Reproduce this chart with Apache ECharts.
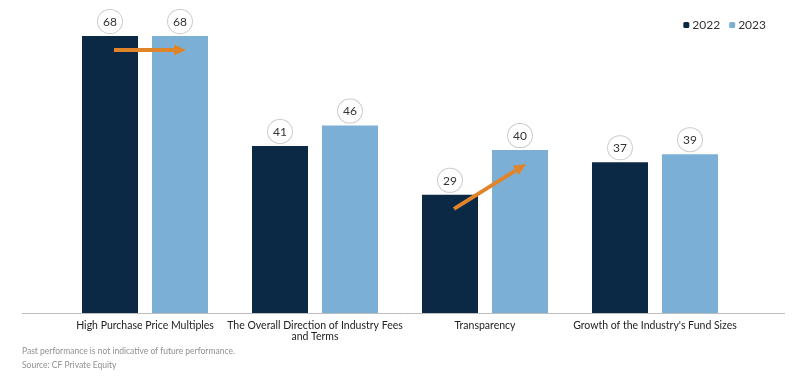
<!DOCTYPE html>
<html><head><meta charset="utf-8">
<script src="https://cdn.jsdelivr.net/npm/echarts@6/dist/echarts.min.js"></script>
<style>html,body{margin:0;padding:0;background:#fff}#c{width:800px;height:383px}</style>
</head><body><div id="c"></div>
<script>
const categories = ["High Purchase Price Multiples", "The Overall Direction of Industry Fees\nand Terms", "Transparency", "Growth of the Industry's Fund Sizes"];
const values2022 = [68, 41, 29, 37];
const values2023 = [68, 46, 40, 39];
const arrows = [[0, 68, 68], [2, 29, 40]]; // [category index, from value, to value]
const footnotes = ["Past performance is not indicative of future performance.", "Source: CF Private Equity"];

const FONT = 'Lato';
const chart = echarts.init(document.getElementById('c'));
const circleLabel = {
  show: true, position: 'top', distance: 3,
  color: '#333', fontFamily: FONT, fontSize: 12,
  backgroundColor: '#fff', borderColor: '#cccccc', borderWidth: 1,
  borderRadius: 12, padding: [6, 5, 5, 5]
};
chart.setOption({
  animation: false,
  textStyle: { fontFamily: FONT },
  grid: { left: 60, right: 60, top: 36, bottom: 70 },
  legend: {
    right: 29, top: 14, itemWidth: 6, itemHeight: 6, itemGap: 9,
    textStyle: { fontFamily: FONT, fontSize: 12, color: '#333', padding: [0, 0, 0, -2] },
    data: ['2022', '2023']
  },
  xAxis: {
    type: 'category', data: categories,
    axisLine: { show: false }, axisTick: { show: false },
    axisLabel: { color: '#222', fontSize: 10.5, fontFamily: FONT, margin: 7, lineHeight: 11, interval: 0 }
  },
  yAxis: { type: 'value', min: 0, max: 68, show: false, splitLine: { show: false } },
  graphic: [
    { type: 'line', shape: { x1: 22, y1: 313.5, x2: 785, y2: 313.5 }, style: { stroke: '#bdbdbd', lineWidth: 1 }, z: 10 },
    { type: 'text', left: 22, top: 347, style: { text: footnotes[0], fill: '#909090', font: '8.5px ' + FONT } },
    { type: 'text', left: 22, top: 361, style: { text: footnotes[1], fill: '#909090', font: '8.5px ' + FONT } }
  ],
  series: [
    { name: '2022', type: 'bar', data: values2022, barWidth: 56, barGap: '25%', itemStyle: { color: '#0B2945' }, label: circleLabel },
    { name: '2023', type: 'bar', data: values2023, barWidth: 56, itemStyle: { color: '#7BAFD6' }, label: circleLabel },
    {
      type: 'custom', data: arrows, z: 20, silent: true,
      encode: { x: 0, y: 1 },
      renderItem: function (params, api) {
        const c = api.value(0);
        const p1 = api.coord([c, api.value(1)]);
        const p2 = api.coord([c, api.value(2)]);
        const dy = 14;
        const x1 = p1[0] - 31, y1 = p1[1] + dy;
        const x2 = p2[0] + 41, y2 = p2[1] + dy;
        const ang = Math.atan2(y2 - y1, x2 - x1);
        const hl = 12, hw = 5.5;
        const bx = x2 - hl * Math.cos(ang), by = y2 - hl * Math.sin(ang);
        const nx = -Math.sin(ang), ny = Math.cos(ang);
        return {
          type: 'group', children: [
            { type: 'line', shape: { x1: x1, y1: y1, x2: bx, y2: by }, style: { stroke: '#E0842A', lineWidth: 4 } },
            { type: 'polygon', shape: { points: [[x2, y2], [bx + nx * hw, by + ny * hw], [bx - nx * hw, by - ny * hw]] }, style: { fill: '#E0842A' } }
          ]
        };
      }
    }
  ]
});
</script></body></html>
